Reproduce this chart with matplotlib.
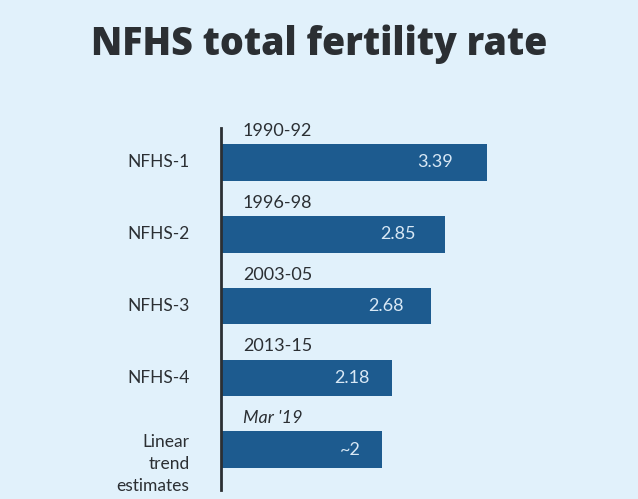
import matplotlib.pyplot as plt

categories = ['NFHS-1', 'NFHS-2', 'NFHS-3', 'NFHS-4', 'Linear\ntrend\nestimates']
periods = ['1990-92', '1996-98', '2003-05', '2013-15', "Mar '19"]
tfr = [3.39, 2.85, 2.68, 2.18, 2.05]
value_labels = ['3.39', '2.85', '2.68', '2.18', '~2']

BG = '#e1f1fb'
BAR = '#1d5b8f'
TXT = '#2b2f33'

fig = plt.figure(figsize=(6.38, 4.99), dpi=100, facecolor=BG)
ax = fig.add_axes([221/638, 1 - 490/499, 1 - 221/638, (490-128)/499])
ax.set_facecolor(BG)

pos = list(range(len(categories)))
ax.barh(pos, tfr, height=0.51, color=BAR, left=0)
ax.set_xlim(0, (638-221)/78.5)
ax.set_ylim(4.56, -0.48)

for i in pos:
    ax.text(0.28, i - 0.44, periods[i], ha='left', va='center',
            fontsize=13, family='Lato', color=TXT,
            style='italic' if i == 4 else 'normal')
    ax.text(tfr[i] * 0.87, i, value_labels[i], ha='right', va='center',
            fontsize=13, family='Lato', color='#d8e8f5')
    # the multi-line label sits a little lower than its bar
    ax.text(-0.4, i + (0.2 if i == 4 else 0), categories[i], ha='right',
            va='center', fontsize=12.5, family='Lato', color=TXT,
            linespacing=1.45)

for s in ['top', 'right', 'bottom']:
    ax.spines[s].set_visible(False)
ax.spines['left'].set_color(TXT)
ax.spines['left'].set_linewidth(2)
ax.set_xticks([])
ax.set_yticks([])

fig.text(0.5, 0.912, 'NFHS total fertility rate', ha='center', va='center',
         fontsize=27, fontweight='heavy', family='Open Sans', color=TXT)

fig.savefig('out.png', dpi=100, facecolor=BG)
